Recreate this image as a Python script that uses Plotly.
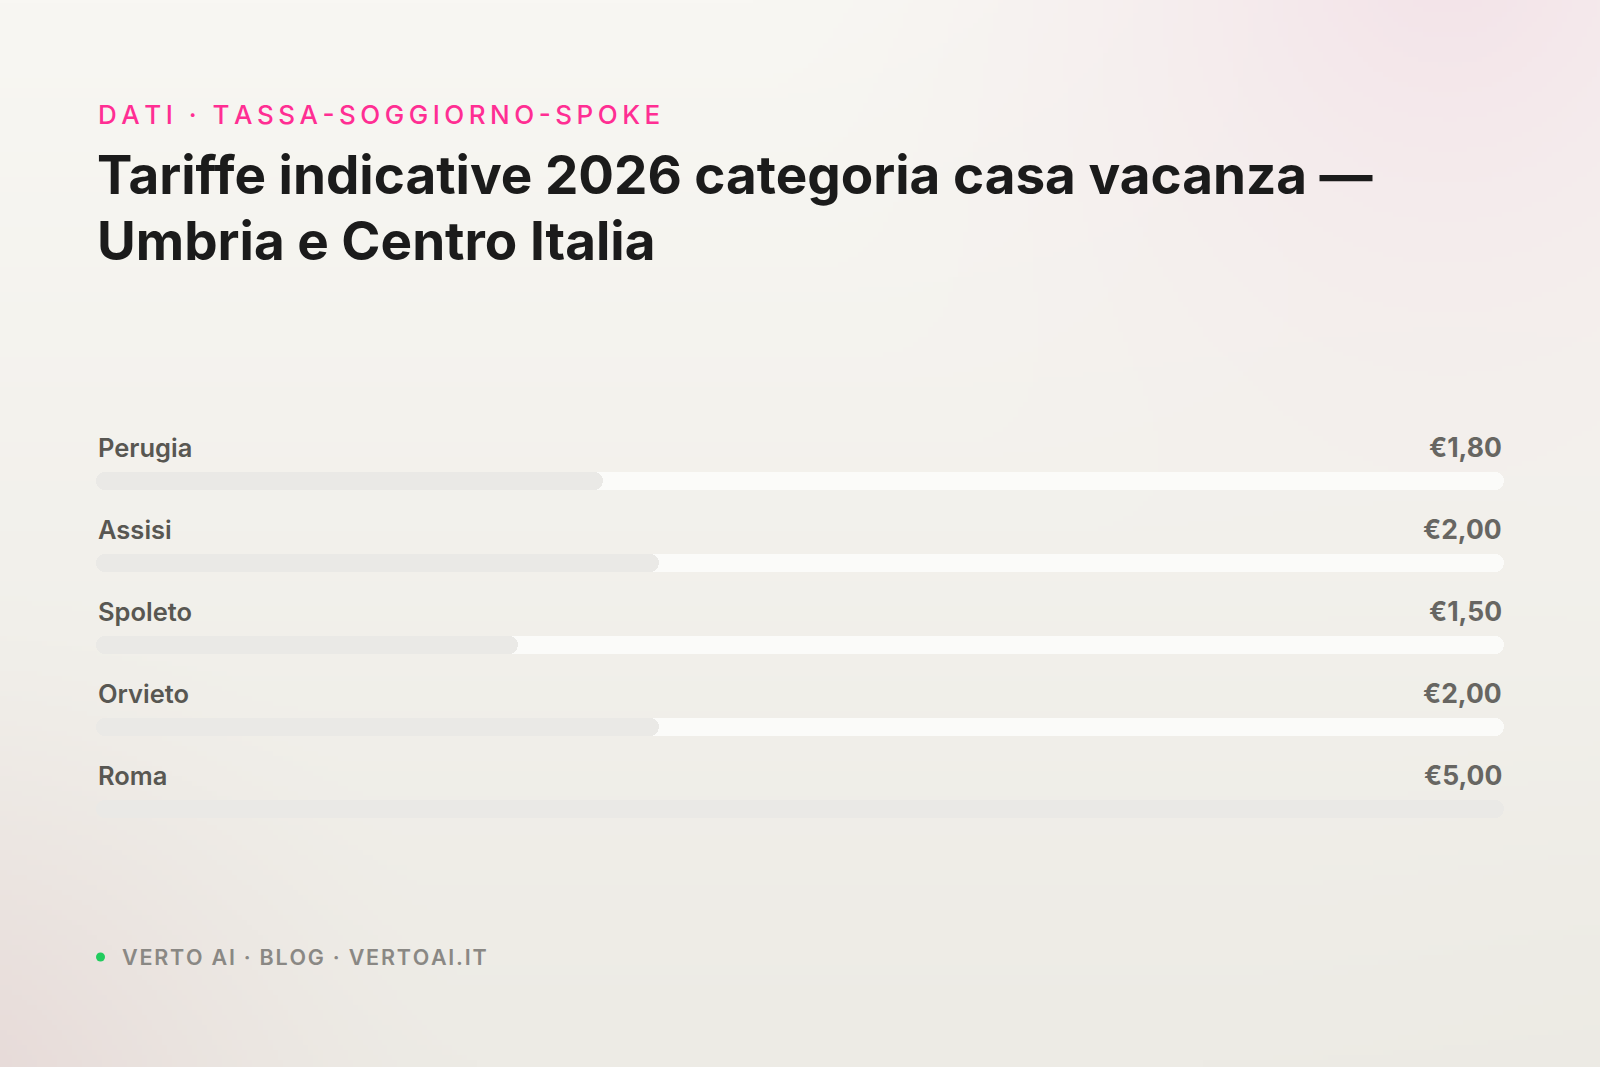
import base64
import struct
import zlib

import numpy as np
import plotly.graph_objects as go

# ---------------- data ----------------
cities = ["Perugia", "Assisi", "Spoleto", "Orvieto", "Roma"]
rates = [1.80, 2.00, 1.50, 2.00, 5.00]
rate_labels = ["€1,80", "€2,00", "€1,50", "€2,00", "€5,00"]
scale_max = 5.0

kicker_text = "DATI · TASSA-SOGGIORNO-SPOKE"
title_line1 = "Tariffe indicative 2026 categoria casa vacanza —"
title_line2 = "Umbria e Centro Italia"
footer_text = "VERTO AI · BLOG · VERTOAI.IT"

# ---------------- page geometry ----------------
W, H = 1600, 1067
ML, MR = 96, 96
PLOT_W = W - ML - MR
ROW_TOP = 481      # pixel centre of first bar
ROW_STEP = 82      # pixel distance between rows
BAR_PX = 18


def py(px):
    """pixel y -> paper y"""
    return 1 - px / H


def px_x(px):
    """pixel x -> paper x"""
    return (px - ML) / PLOT_W


def spaced(s, sep):
    """letter-spacing: put a narrow space between every pair of glyphs"""
    return sep.join(list(s))


# ---------------- background gradient (png) ----------------
def make_bg():
    bw, bh = 320, 214
    yy, xx = np.mgrid[0:bh, 0:bw]
    X = xx / (bw - 1) * W
    Y = yy / (bh - 1) * H
    top = np.array([248, 247, 243], float)
    bot = np.array([237, 235, 229], float)
    t = (Y / H)[..., None]
    img = top * (1 - t) + bot * t

    def blob(img, cx, cy, r, col, a, p=1.6):
        d = np.sqrt((X - cx) ** 2 + (Y - cy) ** 2) / r
        w = (a * np.clip(1 - d, 0, 1) ** p)[..., None]
        return img * (1 - w) + np.array(col, float) * w

    img = blob(img, 1450, -60, 700, (242, 222, 230), 0.85)
    img = blob(img, -80, 1130, 560, (228, 210, 210), 0.85)
    img = blob(img, 1700, 1150, 500, (236, 234, 226), 0.5)
    img = np.clip(img, 0, 255).astype(np.uint8)

    raw = b"".join(b"\x00" + img[r].tobytes() for r in range(bh))

    def chunk(tag, data):
        c = struct.pack(">I", len(data)) + tag + data
        return c + struct.pack(">I", zlib.crc32(tag + data) & 0xFFFFFFFF)

    png = b"\x89PNG\r\n\x1a\n"
    png += chunk(b"IHDR", struct.pack(">IIBBBBB", bw, bh, 8, 2, 0, 0, 0))
    png += chunk(b"IDAT", zlib.compress(raw, 9))
    png += chunk(b"IEND", b"")
    return "data:image/png;base64," + base64.b64encode(png).decode()


# ---------------- figure ----------------
n = len(cities)
ys = list(range(n))
bar_w = BAR_PX / ROW_STEP
y_top = -ROW_TOP / ROW_STEP
y_bot = (H - ROW_TOP) / ROW_STEP

TRACK = "#fbfbf9"
FILL = "#eae9e6"

fig = go.Figure()


def rounded_bar(values, color):
    vals = np.array(values, float)
    # left part, rounded on the left end
    fig.add_trace(go.Bar(
        y=ys, x=-vals * 0.6, base=vals * 0.6, orientation="h",
        width=bar_w, marker=dict(color=color, cornerradius=9, line=dict(width=0)),
        hoverinfo="skip", showlegend=False,
    ))
    # right part, rounded on the right end
    fig.add_trace(go.Bar(
        y=ys, x=vals * 0.6, base=vals * 0.4, orientation="h",
        width=bar_w, marker=dict(color=color, cornerradius=9, line=dict(width=0)),
        hoverinfo="skip", showlegend=False,
    ))


rounded_bar([scale_max] * n, TRACK)
rounded_bar(rates, FILL)

annotations = []
for i, (c, lab) in enumerate(zip(cities, rate_labels)):
    annotations.append(dict(
        x=0, y=i, xref="x", yref="y", text=c, showarrow=False,
        xanchor="left", yanchor="middle", yshift=34,
        font=dict(family="Inter", size=25.5, color="#585752", weight=600),
    ))
    annotations.append(dict(
        x=scale_max, y=i, xref="x", yref="y", text=lab, showarrow=False,
        xanchor="right", yanchor="middle", yshift=34,
        font=dict(family="Inter", size=26.5, color="#676662", weight=700),
    ))

annotations.append(dict(
    x=px_x(96), y=py(114), xref="paper", yref="paper",
    text=spaced(kicker_text, "\u2009"),
    showarrow=False, xanchor="left", yanchor="middle",
    font=dict(family="Inter", size=26, color="#ff2e93", weight=500),
))
annotations.append(dict(
    x=px_x(95), y=py(175), xref="paper", yref="paper", text=title_line1,
    showarrow=False, xanchor="left", yanchor="middle",
    font=dict(family="Inter", size=53, color="#1b1b1b", weight=700),
))
annotations.append(dict(
    x=px_x(95), y=py(241), xref="paper", yref="paper", text=title_line2,
    showarrow=False, xanchor="left", yanchor="middle",
    font=dict(family="Inter", size=53, color="#1b1b1b", weight=700),
))
annotations.append(dict(
    x=px_x(120), y=py(957), xref="paper", yref="paper",
    text=spaced(footer_text, "\u200a"),
    showarrow=False, xanchor="left", yanchor="middle",
    font=dict(family="Inter", size=21.5, color="#8a8884", weight=600),
))

shapes = [dict(
    type="circle", xref="paper", yref="paper",
    x0=px_x(96), x1=px_x(105), y0=py(952.5), y1=py(961.5),
    fillcolor="#22cc5e", line=dict(width=0), layer="above",
)]

fig.update_layout(
    width=W, height=H,
    margin=dict(l=ML, r=MR, t=0, b=0, pad=0),
    paper_bgcolor="#f3f1ec", plot_bgcolor="rgba(0,0,0,0)",
    barmode="overlay", bargap=0,
    xaxis=dict(range=[0, scale_max], visible=False, fixedrange=True),
    yaxis=dict(range=[y_bot, y_top], visible=False, fixedrange=True),
    annotations=annotations, shapes=shapes,
    images=[dict(
        source=make_bg(), xref="paper", yref="paper",
        x=-ML / PLOT_W, y=1, sizex=W / PLOT_W, sizey=1,
        xanchor="left", yanchor="top", sizing="stretch", layer="below",
    )],
    showlegend=False,
)

fig.write_html(
    "out.html",
    config={"displayModeBar": False},
    post_script="document.body.style.margin='0';document.body.style.overflow='hidden';",
)
